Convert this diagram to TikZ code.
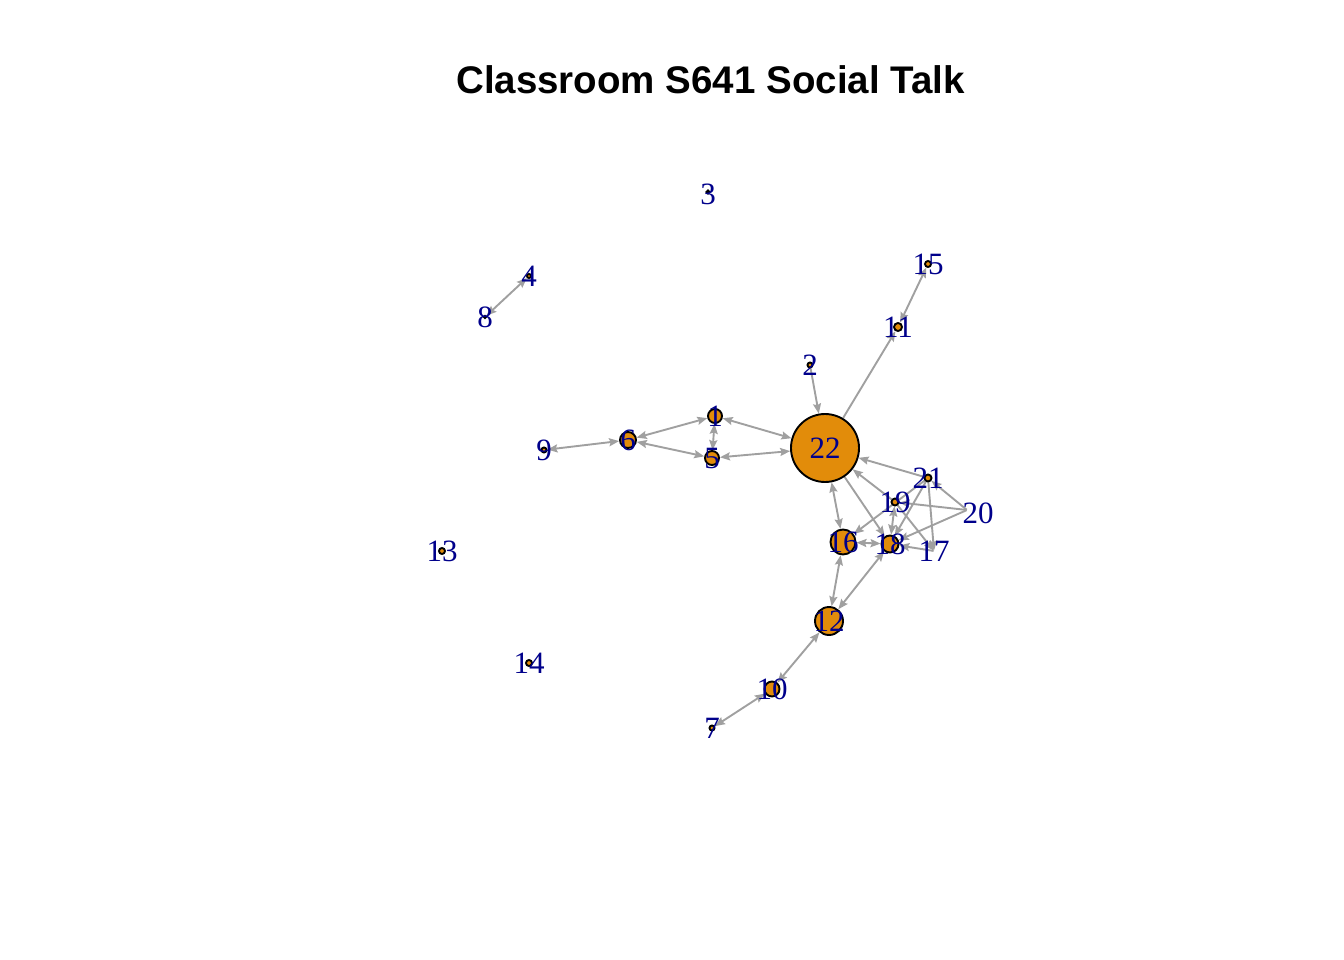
\documentclass[tikz,border=0pt]{standalone}
\usepackage{fontspec}
\setmainfont{Liberation Serif}
\newfontfamily\titlefont{Liberation Sans}
\usetikzlibrary{arrows.meta}
\definecolor{vfill}{RGB}{226,140,10}
\definecolor{egray}{RGB}{160,160,160}
\definecolor{lblue}{RGB}{0,0,139}
\pgfdeclarelayer{bg}
\pgfsetlayers{bg,main}
\tikzset{
 vert/.style={circle, draw=black, fill=vfill, line width=1.9pt, inner sep=0pt, minimum size=#1},
 pt/.style={circle, inner sep=0pt, minimum size=0.5pt},
 lbl/.style={text=lblue, font=\fontsize{31}{31}\selectfont, inner sep=0pt},
 e/.style={draw=egray, line width=1.9pt, -{Stealth[length=10pt,width=8pt,inset=1.5pt]}},
 ee/.style={draw=egray, line width=1.9pt, {Stealth[length=10pt,width=8pt,inset=1.5pt]}-{Stealth[length=10pt,width=8pt,inset=1.5pt]}},
}
\begin{document}
\begin{tikzpicture}[x=1pt,y=-1pt]
\useasboundingbox (0,0) rectangle (1344,960);
\node[font=\titlefont\bfseries\fontsize{38.5}{38.5}\selectfont, inner sep=0pt] (title) at (710.5,80) {Classroom S641 Social Talk};
% vertices
\node[vert=14] (v1) at (715,416) {};
\node[vert=5] (v2) at (810,365) {};
\node[vert=3] (v3) at (708,192) {};
\node[vert=4] (v4) at (529,276) {};
\node[vert=14] (v5) at (712,458) {};
\node[vert=16] (v6) at (628,440) {};
\node[vert=5] (v7) at (712,728) {};
\node[vert=2] (v8) at (485,317) {};
\node[vert=5] (v9) at (544,450) {};
\node[vert=15] (v10) at (772,689) {};
\node[vert=8] (v11) at (898,327) {};
\node[vert=28] (v12) at (829,621) {};
\node[vert=6] (v13) at (442,551) {};
\node[vert=6] (v14) at (529,663) {};
\node[vert=6] (v15) at (928,264) {};
\node[vert=25] (v16) at (843,542) {};
\node[pt] (v17) at (934,551) {};
\node[vert=17] (v18) at (890,544) {};
\node[vert=7] (v19) at (895,502) {};
\node[pt] (v20) at (967,510) {};
\node[vert=7] (v21) at (928,478) {};
\node[vert=68] (v22) at (825,448) {};
% edges
\begin{pgfonlayer}{bg}
\draw[ee] (v4) -- (v8);
\draw[ee] (v9) -- (v6);
\draw[ee] (v6) -- (v1);
\draw[ee] (v6) -- (v5);
\draw[ee] (v1) -- (v5);
\draw[ee] (v1) -- (v22);
\draw[ee] (v5) -- (v22);
\draw[e] (v2) -- (v22);
\draw[e] (v22) -- (v11);
\draw[ee] (v15) -- (v11);
\draw[e] (v21) -- (v22);
\draw[e] (v19) -- (v22);
\draw[ee] (v22) -- (v16);
\draw[e] (v22) -- (v18);
\draw[ee] (v16) -- (v18);
\draw[ee] (v16) -- (v12);
\draw[ee] (v18) -- (v12);
\draw[ee] (v12) -- (v10);
\draw[ee] (v10) -- (v7);
\draw[e] (v21) -- (v16);
\draw[ee] (v19) -- (v18);
\draw[e] (v21) -- (v18);
\draw[e] (v20) -- (v21);
\draw[e] (v20) -- (v19);
\draw[e] (v20) -- (v18);
\draw[e] (v21) -- (v17);
\draw[e] (v19) -- (v17);
\draw[e] (v17) -- (v18);
\end{pgfonlayer}
% labels
\node[lbl] (l1) at (v1) {1};
\node[lbl] (l2) at (v2) {2};
\node[lbl] (l3) at (708,194) {3};
\node[lbl] (l4) at (v4) {4};
\node[lbl] (l5) at (v5) {5};
\node[lbl] (l6) at (v6) {6};
\node[lbl] (l7) at (v7) {7};
\node[lbl] (l8) at (v8) {8};
\node[lbl] (l9) at (v9) {9};
\node[lbl] (l10) at (v10) {10};
\node[lbl] (l11) at (v11) {11};
\node[lbl] (l12) at (v12) {12};
\node[lbl] (l13) at (v13) {13};
\node[lbl] (l14) at (v14) {14};
\node[lbl] (l15) at (v15) {15};
\node[lbl] (l16) at (v16) {16};
\node[lbl] (l17) at (v17) {17};
\node[lbl] (l18) at (v18) {18};
\node[lbl] (l19) at (v19) {19};
\node[lbl] (l20) at (978,513) {20};
\node[lbl] (l21) at (v21) {21};
\node[lbl] (l22) at (v22) {22};
\end{tikzpicture}
\end{document}
